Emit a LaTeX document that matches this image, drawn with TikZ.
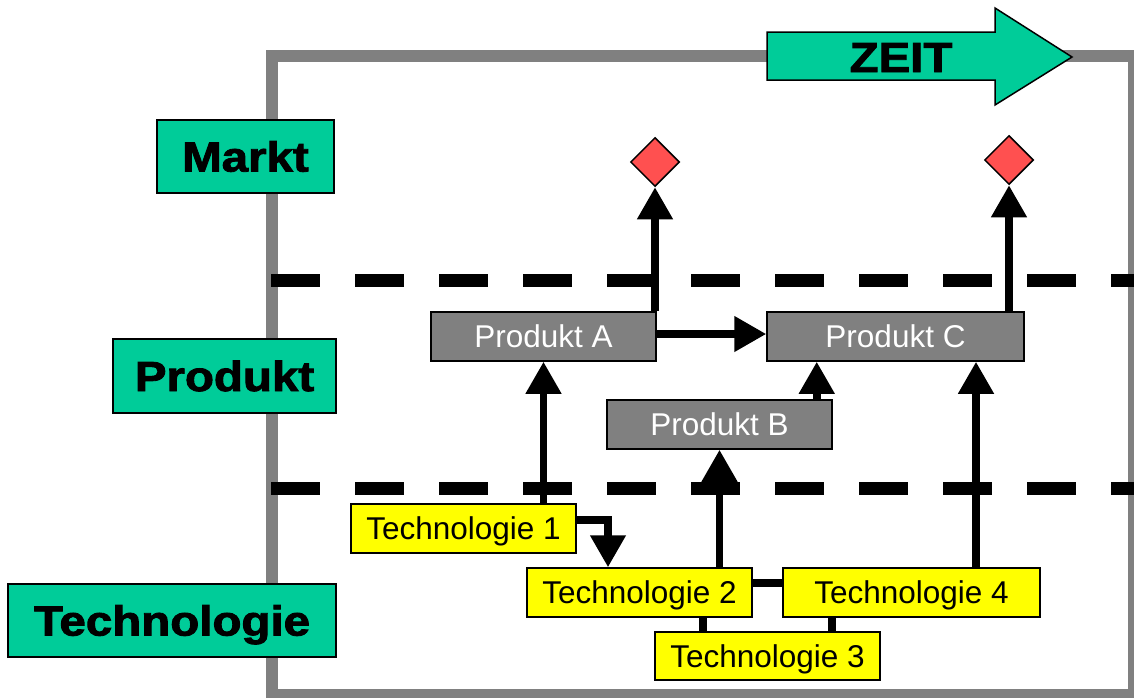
\documentclass[tikz,border=0pt]{standalone}
\usepackage{fontspec}
\setmainfont{Liberation Sans}
\newfontfamily\heavyfont[FakeBold=2]{Liberation Sans Bold}
\usetikzlibrary{arrows.meta,shapes.geometric}
\definecolor{zgreen}{HTML}{00CC99}
\definecolor{zred}{HTML}{FF5050}
\definecolor{zyellow}{HTML}{FFFF00}
\definecolor{zgray}{HTML}{808080}
\tikzset{
  lane/.style={draw=black,line width=1.5pt,fill=zgreen,inner sep=0pt,
    text height=30pt,text depth=0pt,
    font=\heavyfont\fontsize{42}{48}\selectfont},
  prod/.style={draw=black,line width=1.5pt,fill=zgray,inner sep=0pt,text=white,
    text height=22.5pt,text depth=0pt,
    minimum height=49pt,font=\fontsize{31.5}{36}\selectfont},
  tech/.style={draw=black,line width=1.5pt,fill=zyellow,inner sep=0pt,text=black,
    text height=22.5pt,text depth=0pt,
    minimum height=49pt,font=\fontsize{31.5}{36}\selectfont},
  goal/.style={diamond,draw=black,line width=1.5pt,fill=zred,inner sep=0pt,
    minimum width=49pt,minimum height=49pt},
  arr/.style={line width=7.5pt,-{Triangle[width=34pt,length=32pt]}},
  con/.style={line width=7.5pt},
  dashline/.style={line width=13pt,dash pattern=on 49pt off 35pt},
  frame/.style={draw=zgray,line width=12pt},
}
\begin{document}
\begin{tikzpicture}[x=1pt,y=-1pt]
\useasboundingbox (0,0) rectangle (1134,697);
% frame
\draw[frame] (272,56) rectangle (1134,695);
% dashed separators
\draw[dashline] (271,280) -- (1160,280);
\draw[dashline] (271,488) -- (1160,488);
% time arrow
\draw[line width=1.5pt,fill=zgreen] (767,32) -- (995,32) -- (995,8) -- (1072,57) -- (995,105) -- (995,80) -- (767,80) -- cycle;
\node[font=\heavyfont\fontsize{42}{48}\selectfont,text height=30pt,text depth=0pt,inner sep=0pt] (zeit) at (901,57) {\scalebox{1.13}[1]{ZEIT}};
% lane labels
\node[lane,minimum width=177pt,minimum height=73pt] (markt) at (245.5,156.5) {\scalebox{1.13}[1]{Markt}};
\node[lane,minimum width=223pt,minimum height=74pt] (produkt) at (224.5,376) {\scalebox{1.13}[1]{Produkt}};
\node[lane,minimum width=328pt,minimum height=73pt] (technologie) at (172,620.5) {\scalebox{1.13}[1]{Technologie}};
% products
\node[prod,minimum width=225pt] (pa) at (543.5,336.5) {Produkt A};
\node[prod,minimum width=257pt] (pc) at (895.5,336.5) {Produkt C};
\node[prod,minimum width=225pt] (pb) at (719.5,424.5) {Produkt B};
% technologies
\node[tech,minimum width=225pt] (t1) at (463.5,528.5) {Technologie 1};
\node[tech,minimum width=225pt] (t2) at (639.5,592.5) {Technologie 2};
\node[tech,minimum width=257pt] (t4) at (911.5,592.5) {Technologie 4};
\node[tech,minimum width=225pt,minimum height=48pt] (t3) at (767.5,656) {Technologie 3};
% market goals
\node[goal] (d1) at (655,162) {};
\node[goal] (d2) at (1009,160) {};
% connectors
\draw[arr] (d1.south |- pa.north) -- (d1.south);
\draw[arr] (d2.south |- pc.north) -- (d2.south);
\draw[arr] ([yshift=2.5pt]pa.east) -- ([yshift=2.5pt]pc.west);
\draw[arr] ([xshift=-16pt]pb.north east) -- ([xshift=-16pt]pb.north east |- pc.south);
\draw[arr] (pa.south |- t1.north) -- (pa.south);
\draw[arr] (pb.south |- t2.north) -- (pb.south);
\draw[arr] ([xshift=64.5pt]t4.north) -- ([xshift=64.5pt]t4.north |- pc.south);
\draw[arr] ([yshift=8.5pt]t1.east) -| ([xshift=-31.5pt]t2.north);
\draw[con] ([yshift=9.5pt]t2.east) -- ([yshift=9.5pt]t4.west);
\draw[con] ([xshift=63.5pt]t2.south) -- ([xshift=63.5pt]t2.south |- t3.north);
\draw[con] ([xshift=-79.5pt]t4.south) -- ([xshift=-79.5pt]t4.south |- t3.north);
\end{tikzpicture}
\end{document}
